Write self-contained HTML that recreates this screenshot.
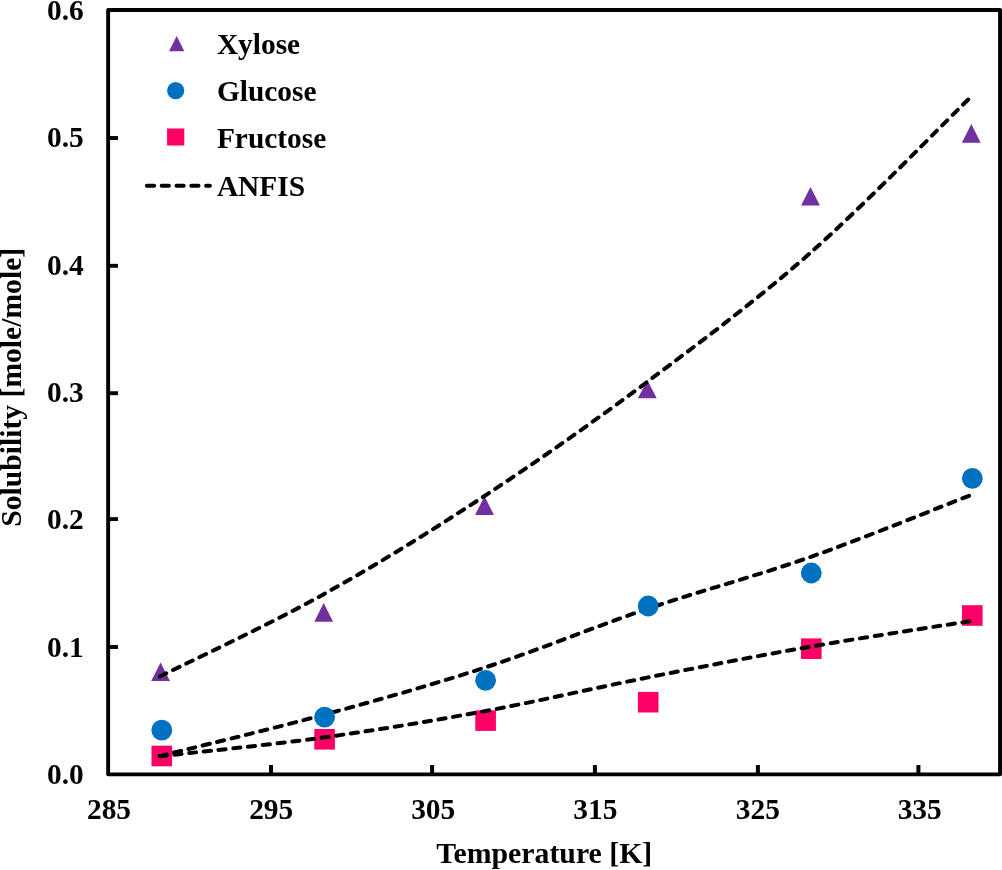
<!DOCTYPE html>
<html lang="en"><head><meta charset="utf-8"><title>Solubility vs Temperature</title>
<style>html,body{margin:0;padding:0;background:#fff;}body{width:1002px;height:870px;overflow:hidden;}svg{display:block;will-change:transform;}text{font-family:"Liberation Serif", "DejaVu Serif", serif;font-weight:bold;font-size:29.4px;fill:#000;}</style></head><body>
<svg width="1002" height="870" viewBox="0 0 1002 870">
<rect x="0" y="0" width="1002" height="870" fill="#ffffff"/>
<rect x="108.15" y="9.95" width="891.9" height="764.4" fill="none" stroke="#000" stroke-width="3.9" stroke-linejoin="round"/>
<line x1="108.2" y1="647.00" x2="117.95" y2="647.00" stroke="#000" stroke-width="3.9"/>
<line x1="108.2" y1="519.10" x2="117.95" y2="519.10" stroke="#000" stroke-width="3.9"/>
<line x1="108.2" y1="393.20" x2="117.95" y2="393.20" stroke="#000" stroke-width="3.9"/>
<line x1="108.2" y1="265.80" x2="117.95" y2="265.80" stroke="#000" stroke-width="3.9"/>
<line x1="108.2" y1="138.00" x2="117.95" y2="138.00" stroke="#000" stroke-width="3.9"/>
<line x1="271.00" y1="774.3" x2="271.00" y2="765.05" stroke="#000" stroke-width="4"/>
<line x1="432.10" y1="774.3" x2="432.10" y2="765.05" stroke="#000" stroke-width="4"/>
<line x1="594.90" y1="774.3" x2="594.90" y2="765.05" stroke="#000" stroke-width="4"/>
<line x1="757.90" y1="774.3" x2="757.90" y2="765.05" stroke="#000" stroke-width="4"/>
<line x1="918.40" y1="774.3" x2="918.40" y2="765.05" stroke="#000" stroke-width="4"/>
<text x="83.8" y="19.95" text-anchor="end">0.6</text>
<text x="83.8" y="146.95" text-anchor="end">0.5</text>
<text x="83.8" y="274.95" text-anchor="end">0.4</text>
<text x="83.8" y="401.95" text-anchor="end">0.3</text>
<text x="83.8" y="528.95" text-anchor="end">0.2</text>
<text x="83.8" y="656.95" text-anchor="end">0.1</text>
<text x="83.8" y="783.95" text-anchor="end">0.0</text>
<text x="109.0" y="818.95" text-anchor="middle">285</text>
<text x="271.2" y="818.95" text-anchor="middle">295</text>
<text x="433.2" y="818.95" text-anchor="middle">305</text>
<text x="595.3" y="818.95" text-anchor="middle">315</text>
<text x="757.8" y="818.95" text-anchor="middle">325</text>
<text x="919.7" y="818.95" text-anchor="middle">335</text>
<text x="544.3" y="862.5" text-anchor="middle" style="font-size:29.8px">Temperature [K]</text>
<text transform="translate(20.8,387.25) rotate(-90)" text-anchor="middle" style="font-size:29.62px">Solubility [mole/mole]</text>
<rect x="151.5" y="745.7" width="20.6" height="20.6" fill="#FF0066"/>
<rect x="314.3" y="729.0" width="20.6" height="20.6" fill="#FF0066"/>
<rect x="475.3" y="710.3" width="20.6" height="20.6" fill="#FF0066"/>
<rect x="637.9" y="691.9" width="20.6" height="20.6" fill="#FF0066"/>
<rect x="801.0" y="638.4" width="20.6" height="20.6" fill="#FF0066"/>
<rect x="962.0" y="605.2" width="20.6" height="20.6" fill="#FF0066"/>
<polygon points="160.6,662.4 170.0,681.1 151.2,681.1" fill="#7030A0"/>
<polygon points="323.7,603.1 333.1,621.8 314.3,621.8" fill="#7030A0"/>
<polygon points="484.5,496.2 493.9,514.9 475.1,514.9" fill="#7030A0"/>
<polygon points="647.3,380.0 656.7,398.2 637.9,398.2" fill="#7030A0"/>
<polygon points="810.5,187.0 819.9,205.5 801.1,205.5" fill="#7030A0"/>
<polygon points="971.3,124.1 980.7,142.7 961.9,142.7" fill="#7030A0"/>
<path d="M159.80,676.50 C186.92,662.90 268.38,624.98 322.50,594.90 C376.62,564.82 430.42,531.48 484.50,496.00 C538.58,460.52 592.83,422.40 647.00,382.00 C701.17,341.60 755.97,300.68 809.50,253.60 C863.03,206.52 941.75,125.18 968.20,99.50" stroke="#000" stroke-width="4" stroke-linecap="round" stroke-linejoin="round" stroke-dasharray="7.2 7.6" fill="none"/>
<path d="M159.80,756.10 C186.92,749.27 268.38,729.83 322.50,715.10 C376.62,700.37 430.42,685.38 484.50,667.70 C538.58,650.02 592.83,627.40 647.00,609.00 C701.17,590.60 755.67,576.23 809.50,557.30 C863.33,538.37 943.25,505.72 970.00,495.40" stroke="#000" stroke-width="4" stroke-linecap="round" stroke-linejoin="round" stroke-dasharray="7.2 7.6" fill="none"/>
<path d="M159.80,756.30 C186.92,753.18 268.38,745.12 322.50,737.60 C376.62,730.08 430.42,721.20 484.50,711.20 C538.58,701.20 592.83,688.33 647.00,677.60 C701.17,666.87 755.67,656.20 809.50,646.80 C863.33,637.40 943.25,625.47 970.00,621.20" stroke="#000" stroke-width="4" stroke-linecap="round" stroke-linejoin="round" stroke-dasharray="7.2 7.6" fill="none"/>
<circle cx="161.8" cy="730.2" r="10.4" fill="#0070C0"/>
<circle cx="324.6" cy="717.2" r="10.4" fill="#0070C0"/>
<circle cx="485.6" cy="680.3" r="10.4" fill="#0070C0"/>
<circle cx="648.2" cy="606.0" r="10.4" fill="#0070C0"/>
<circle cx="811.3" cy="573.0" r="10.4" fill="#0070C0"/>
<circle cx="972.3" cy="478.3" r="10.4" fill="#0070C0"/>
<polygon points="176.7,35.9 184.3,51.2 169.0,51.2" fill="#7030A0"/>
<circle cx="175.7" cy="90.6" r="8.6" fill="#0070C0"/>
<rect x="167.1" y="128.5" width="17.2" height="17.0" fill="#FF0066"/>
<line x1="146.9" y1="185.8" x2="209.9" y2="185.8" stroke="#000" stroke-width="4" stroke-linecap="round" stroke-linejoin="round" stroke-dasharray="7.2 7.6" fill="none"/>
<text x="216.9" y="53.9">Xylose</text>
<text x="216.9" y="101.0">Glucose</text>
<text x="216.9" y="147.8">Fructose</text>
<text x="216.9" y="195.8">ANFIS</text>
</svg></body></html>
